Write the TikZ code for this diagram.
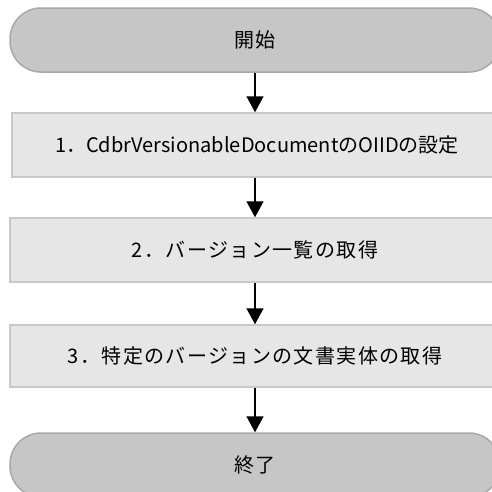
\documentclass[tikz,border=0pt]{standalone}
\usepackage{fontspec}
\setmainfont{Noto Sans CJK JP}
\newfontfamily\jpspaced[LetterSpace=7]{Noto Sans CJK JP}
\usetikzlibrary{arrows.meta}
\definecolor{termfill}{HTML}{C6C6C6}
\definecolor{termdraw}{HTML}{A8A8A8}
\definecolor{boxfill}{HTML}{E6E6E6}
\definecolor{boxdraw}{HTML}{C8C8C8}
\begin{document}
\begin{tikzpicture}[x=1pt,y=-1pt,
  term/.style={draw=termdraw, fill=termfill, line width=1.5pt, rounded corners=31pt,
    minimum width=490pt, minimum height=64pt, inner sep=0pt, font=\fontsize{20}{23}\jpspaced},
  stepbox/.style={draw=boxdraw, fill=boxfill, line width=1.5pt,
    minimum width=490pt, minimum height=64pt, inner sep=0pt, font=\fontsize{20}{23}\selectfont},
  spaced/.style={font=\fontsize{20}{23}\jpspaced},
  flow/.style={line width=1.5pt, -{Triangle[width=17pt,length=16pt]}}]
\useasboundingbox (0,0) rectangle (492,491);
\clip (0,0) rectangle (492,491);
\node[term] (start) at (255,40) {開始};
\node[stepbox] (s1) at (257,145) {1．CdbrVersionableDocumentのOIIDの設定};
\node[stepbox, spaced] (s2) at (255,250) {2．バージョン一覧の取得};
\node[stepbox, spaced, minimum height=62pt] (s3) at (255,356) {3．特定のバージョンの文書実体の取得};
\node[term] (end) at (255,465) {終了};
\draw[flow] (start) -- (start |- s1.north);
\draw[flow] (s1.south -| start) -- (start |- s2.north);
\draw[flow] (s2) -- (s3);
\draw[flow] (s3) -- (end);
\end{tikzpicture}
\end{document}
